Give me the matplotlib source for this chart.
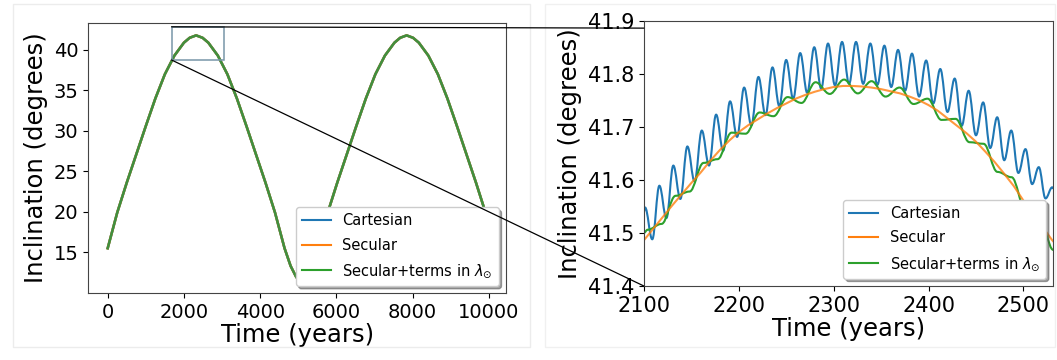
import matplotlib.pyplot as plt
from matplotlib.patches import Rectangle, ConnectionPatch, PathPatch
from matplotlib.path import Path
from matplotlib.lines import Line2D

# full integration, inclination vs time (years)
t_long = [0, 250, 500, 750, 1000, 1250, 1500, 1750, 2000, 2150, 2320, 2490, 2640,
          2890, 3140, 3390, 3640, 3890, 4140, 4390, 4640, 4800, 4950, 5080, 5210,
          5360, 5523, 5773, 6023, 6273, 6523, 6773, 7023, 7273, 7523, 7673, 7843,
          8013, 8163, 8413, 8663, 8913, 9163, 9413, 9663, 9913, 9950]
inc_long = [15.5, 19.9, 23.6, 27.1, 30.6, 34.0, 37.0, 39.3, 40.9, 41.5, 41.8, 41.5, 40.9,
            39.3, 37.0, 34.0, 30.6, 27.1, 23.6, 19.9, 15.5, 13.3, 11.9, 11.45, 11.9,
            13.3, 15.5, 19.9, 23.6, 27.1, 30.6, 34.0, 37.0, 39.3, 40.9, 41.5, 41.8,
            41.5, 40.9, 39.3, 37.0, 34.0, 30.6, 27.1, 23.6, 19.9, 19.4]

# zoom around the first maximum (turning points of the fast terms)
t_cart = [2100.0, 2101.3, 2108.9, 2116.4, 2123.8, 2131.1, 2138.5, 2145.9, 2153.5, 2161.1,
          2168.7, 2176.2, 2183.6, 2190.9, 2198.3, 2205.7, 2213.3, 2220.8, 2228.2, 2235.6,
          2242.8, 2250.0, 2257.4, 2264.8, 2272.2, 2279.6, 2286.9, 2294.1, 2301.5, 2308.9,
          2316.3, 2323.6, 2331.2, 2338.7, 2346.1, 2353.5, 2360.7, 2367.9, 2375.3, 2382.6,
          2390.1, 2397.5, 2405.0, 2412.4, 2420.0, 2427.6, 2435.0, 2442.3, 2450.0, 2457.6,
          2465.0, 2472.4, 2479.8, 2487.2, 2494.7, 2502.2, 2509.2, 2516.2, 2523.3, 2530.4,
          2531.5]
inc_cart = [41.540, 41.548, 41.488, 41.589, 41.528, 41.627, 41.564, 41.663, 41.597, 41.693,
            41.627, 41.723, 41.655, 41.748, 41.681, 41.774, 41.703, 41.794, 41.722, 41.812,
            41.739, 41.826, 41.753, 41.839, 41.764, 41.850, 41.772, 41.857, 41.778, 41.860,
            41.781, 41.860, 41.781, 41.857, 41.779, 41.853, 41.775, 41.845, 41.768, 41.838,
            41.757, 41.825, 41.744, 41.809, 41.728, 41.791, 41.702, 41.768, 41.684, 41.746,
            41.660, 41.718, 41.637, 41.693, 41.613, 41.658, 41.592, 41.624, 41.565, 41.586,
            41.584]

t_sec = [2100, 2110, 2120, 2130, 2140, 2150, 2160, 2170, 2180, 2190, 2200, 2210, 2220,
         2230, 2240, 2250, 2260, 2270, 2280, 2290, 2300, 2310, 2320, 2330, 2340, 2350,
         2360, 2370, 2380, 2390, 2400, 2410, 2420, 2430, 2440, 2450, 2460, 2470, 2480,
         2490, 2500, 2510, 2520, 2530, 2531.5]
inc_sec = [41.486, 41.508, 41.530, 41.552, 41.573, 41.594, 41.614, 41.636, 41.656, 41.674,
           41.690, 41.703, 41.714, 41.725, 41.735, 41.744, 41.753, 41.760, 41.766, 41.771,
           41.775, 41.777, 41.777, 41.776, 41.774, 41.771, 41.767, 41.763, 41.757, 41.750,
           41.741, 41.730, 41.716, 41.702, 41.688, 41.672, 41.653, 41.633, 41.611, 41.588,
           41.561, 41.537, 41.512, 41.487, 41.484]

t_lam = [2100, 2104, 2118.7, 2133.5, 2148.2, 2163, 2177.7, 2192.5, 2207.2, 2222, 2236.7,
         2251.5, 2266.2, 2281, 2296, 2311, 2325.5, 2340, 2354.7, 2369.5, 2384.2, 2399,
         2413.7, 2428.5, 2443.2, 2458, 2472.7, 2487.5, 2502.2, 2517, 2531.5]
inc_lam = [41.500, 41.506, 41.517, 41.570, 41.578, 41.632, 41.639, 41.689, 41.687, 41.727,
           41.720, 41.756, 41.745, 41.784, 41.762, 41.789, 41.763, 41.786, 41.757, 41.774,
           41.743, 41.753, 41.713, 41.715, 41.671, 41.668, 41.615, 41.605, 41.544, 41.530,
           41.468]

labels = ['Cartesian', 'Secular', r'Secular+terms in $\lambda_{\odot}$']

# zoom box drawn on the overview
box_t = (1675, 3047)
box_inc = (38.76, 42.86)


def wiggle(ax, t, v, **kw):
    # smooth curve through turning points: flat tangent at each one
    verts = [(t[0], v[0])]
    codes = [Path.MOVETO]
    for i in range(1, len(t)):
        h = 0.38 * (t[i] - t[i-1])
        verts += [(t[i-1] + h, v[i-1]), (t[i] - h, v[i]), (t[i], v[i])]
        codes += [Path.CURVE4] * 3
    ax.add_patch(PathPatch(Path(verts, codes), fill=False, capstyle='round',
                           joinstyle='round', **kw))


fig = plt.figure(figsize=(10.57, 3.6), dpi=100)

# faint frames around the two panels
fig.add_artist(Rectangle((13/1057, 13/360), 517/1057, 343/360, transform=fig.transFigure,
                         fill=False, edgecolor='#ececec', lw=1))
fig.add_artist(Rectangle((545/1057, 13/360), 510/1057, 343/360, transform=fig.transFigure,
                         fill=False, edgecolor='#f0f0f0', lw=1))

ax1 = fig.add_axes([0.0835, 0.1853, 0.3952, 0.7517])
ax1.plot(t_long, inc_long, color='C0', lw=1.8)
ax1.plot(t_long, inc_long, color='C1', lw=1.8)
ax1.plot(t_long, inc_long, color='#3f8f3f', lw=1.8)
ax1.set_xlim(-510, 10450)
ax1.set_ylim(9.93, 43.37)
ax1.set_xticks([0, 2000, 4000, 6000, 8000, 10000])
ax1.set_yticks([15, 20, 25, 30, 35, 40])
ax1.tick_params(labelsize=14)
ax1.set_xlabel('Time (years)', fontsize=17.5, labelpad=1)
ax1.set_ylabel('Inclination (degrees)', fontsize=17.5)
ax1.add_patch(Rectangle((box_t[0], box_inc[0]), box_t[1] - box_t[0], box_inc[1] - box_inc[0],
                        fill=False, edgecolor='#7896a8', lw=1.1, zorder=3))

ax2 = fig.add_axes([0.6091, 0.2056, 0.3874, 0.7369])
wiggle(ax2, t_cart, inc_cart, edgecolor='C0', lw=1.5)
ax2.plot(t_sec, inc_sec, color='C1', lw=1.5, alpha=0.8)
wiggle(ax2, t_lam, inc_lam, edgecolor='C2', lw=1.5)
ax2.set_xlim(2100, 2531.5)
ax2.set_ylim(41.4, 41.9)
ax2.set_xticks([2100, 2200, 2300, 2400, 2500])
ax2.set_yticks([41.4, 41.5, 41.6, 41.7, 41.8, 41.9])
ax2.tick_params(labelsize=15)
ax2.set_xlabel('Time (years)', fontsize=17.5, labelpad=1)
ax2.set_ylabel('Inclination (degrees)', fontsize=17.5)

handles = [Line2D([], [], color='C0', lw=1.5),
           Line2D([], [], color='C1', lw=1.5),
           Line2D([], [], color='C2', lw=1.5)]
for ax in (ax1, ax2):
    ax.legend(handles, labels, loc='lower right', fontsize=10.5, shadow=True,
              labelspacing=0.65)
    for sp in ax.spines.values():
        sp.set_color('#444444')

# lines tying the box to the zoomed panel
con_top = ConnectionPatch(xyA=(box_t[0], box_inc[1]), coordsA=ax1.transData,
                          xyB=(2100, 41.886), coordsB=ax2.transData,
                          color='black', lw=0.9)
con_bot = ConnectionPatch(xyA=(box_t[0], box_inc[0]), coordsA=ax1.transData,
                          xyB=(2100, 41.4), coordsB=ax2.transData,
                          color='black', lw=0.9)
fig.add_artist(con_top)
fig.add_artist(con_bot)

fig.savefig('out.png', dpi=100)
